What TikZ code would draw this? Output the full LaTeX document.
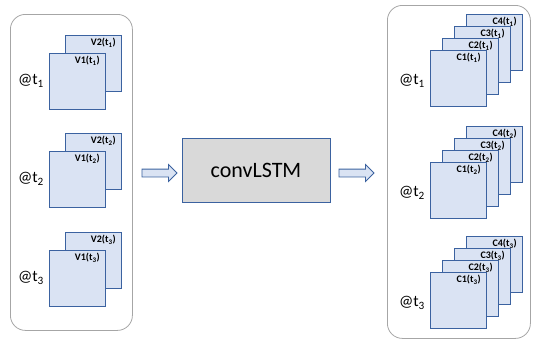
\documentclass[tikz,border=0pt]{standalone}
\usepackage{fontspec}
\setmainfont{Carlito}
\usetikzlibrary{shapes.arrows}
\definecolor{sqfill}{HTML}{DAE3F3}
\definecolor{sqdraw}{HTML}{3B62A0}
\definecolor{boxgray}{HTML}{A6A6A6}
\definecolor{lstmfill}{HTML}{D9D9D9}
\begin{document}
\begin{tikzpicture}[x=1pt,y=-1pt,
  sq/.style={draw=sqdraw, fill=sqfill, line width=0.9pt, minimum size=56pt, inner sep=0pt, anchor=north west},
  lab/.style={font=\bfseries\fontsize{10}{11}\selectfont, anchor=north east, inner sep=0pt, xshift=-6pt, yshift=-3pt},
  tlab/.style={font=\fontsize{16}{18}\selectfont, inner sep=0pt},
  container/.style={draw=boxgray, line width=0.8pt, rounded corners=15pt, anchor=north west, inner sep=0pt},
  blockarrow/.style={single arrow, draw=sqdraw, fill=sqfill, line width=0.8pt, minimum height=35pt, inner sep=3.5pt, single arrow head extend=4.5pt, shape border rotate=0}
]
\useasboundingbox (0,0) rectangle (533,343);

% containers
\node[container, minimum width=122pt, minimum height=316pt] (leftbox) at (10,14) {};
\node[container, minimum width=143pt, minimum height=333pt] (rightbox) at (387,5) {};

% left groups
\foreach \i/\y in {1/35,2/133,3/232}{
  \node[sq] (v2-\i) at (65,\y) {};
  \node[lab] (v2l-\i) at (v2-\i.north east) {V2(t\textsubscript{\i})};
  \node[sq] (v1-\i) at (49,\y+18) {};
  \node[lab] (v1l-\i) at (v1-\i.north east) {V1(t\textsubscript{\i})};
  \node[tlab] (lt-\i) at (31,\y+46) {@t\textsubscript{\i}};
}

% right groups
\foreach \i/\y in {1/50,2/162,3/272}{
  \node[sq] (c4-\i) at (466,\y-36) {};
  \node[lab] (c4l-\i) at (c4-\i.north east) {C4(t\textsubscript{\i})};
  \node[sq] (c3-\i) at (454,\y-24) {};
  \node[lab] (c3l-\i) at (c3-\i.north east) {C3(t\textsubscript{\i})};
  \node[sq] (c2-\i) at (442,\y-12) {};
  \node[lab] (c2l-\i) at (c2-\i.north east) {C2(t\textsubscript{\i})};
  \node[sq] (c1-\i) at (430,\y) {};
  \node[lab] (c1l-\i) at (c1-\i.north east) {C1(t\textsubscript{\i})};
  \node[tlab] (rt-\i) at (412,\y+31) {@t\textsubscript{\i}};
}

% convLSTM
\node[draw=sqdraw, fill=lstmfill, line width=0.9pt, minimum width=148pt, minimum height=64pt, font=\fontsize{22}{24}\selectfont] (lstm) at (256,170) {convLSTM};

% arrows
\node[blockarrow] (arrL) at (157.5,173) {};
\node[blockarrow] (arrR) at (354.5,173) {};
\end{tikzpicture}
\end{document}
